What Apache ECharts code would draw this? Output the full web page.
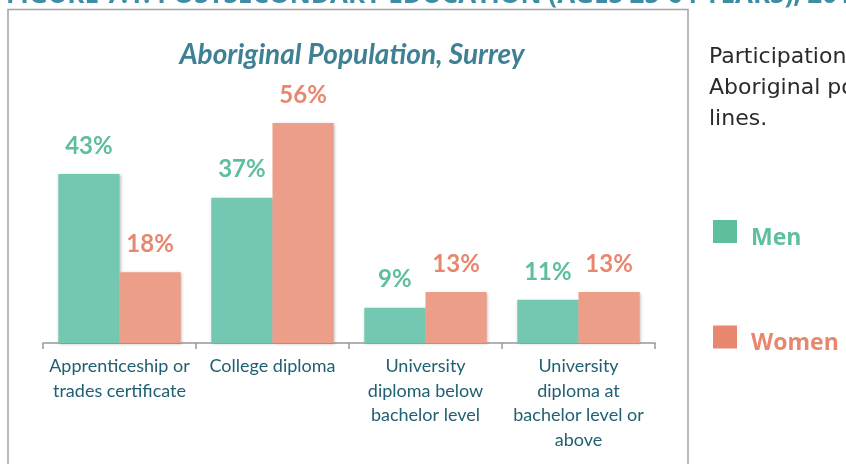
<!DOCTYPE html>
<html>
<head>
<meta charset="utf-8">
<script src="https://cdn.jsdelivr.net/npm/echarts@6/dist/echarts.min.js"></script>
<style>
html,body{margin:0;padding:0;background:#fff;}
#chart{width:846px;height:464px;}
</style>
</head>
<body>
<div id="chart"></div>
<script>
const categories = [
  "Apprenticeship or\ntrades certificate",
  "College diploma",
  "University\ndiploma below\nbachelor level",
  "University\ndiploma at\nbachelor level or\nabove"
];
const menValues = [43, 37, 9, 11];
const womenValues = [18, 56, 13, 13];
const chartTitle = "Aboriginal Population, Surrey";
const figureTitle = "FIGURE 7.1: POSTSECONDARY EDUCATION (AGES 25-64 YEARS), 2016";
const sideText = ["Participation of the", "Aboriginal population in", "lines."];

const menBar = "#74c8b1", womenBar = "#ed9e88";
const menText = "#5ebf9d", womenText = "#e8876f";

const chart = echarts.init(document.getElementById('chart'));
chart.setOption({
  animation: false,
  title: {
    text: chartTitle,
    left: 347, top: 36, textAlign: 'center',
    textStyle: {fontFamily: 'Lato', fontStyle: 'italic', fontWeight: 'bold', fontSize: 28, color: '#3f8194'}
  },
  grid: {left: 43, right: 191, top: 68, bottom: 121},
  legend: {
    orient: 'vertical', left: 713, top: 220, padding: 0,
    itemWidth: 24, itemHeight: 23, itemGap: 76,
    icon: 'rect',
    formatter: '{t|{name}}',
    textStyle: {
      fontFamily: 'Open Sans', fontWeight: 'bold', fontSize: 23,
      rich: {t: {fontFamily: 'Open Sans', fontWeight: 'bold', fontSize: 23, padding: [13, 0, 0, 9]}}
    },
    data: [
      {name: 'Men', itemStyle: {color: menText}, textStyle: {color: menText}},
      {name: 'Women', itemStyle: {color: womenText}, textStyle: {color: womenText}}
    ]
  },
  xAxis: {
    type: 'category', data: categories,
    axisLine: {lineStyle: {color: '#999', width: 1.5}},
    axisTick: {show: true, length: 6, lineStyle: {color: '#999', width: 1.5}},
    axisLabel: {fontFamily: 'Lato', fontSize: 18, lineHeight: 24.5, color: '#1f6072', margin: 11, interval: 0}
  },
  yAxis: {type: 'value', min: 0, max: 70, show: false, splitLine: {show: false}},
  series: [
    {
      name: 'Men', type: 'bar', data: menValues, barGap: '0%', barCategoryGap: '20%',
      itemStyle: {color: menBar, shadowBlur: 3, shadowColor: 'rgba(0,0,0,0.25)', shadowOffsetX: 1, shadowOffsetY: 1},
      label: {show: true, position: 'top', distance: 16, formatter: '{c}%', fontFamily: 'Lato', fontWeight: 'bold', fontSize: 24, color: menText}
    },
    {
      name: 'Women', type: 'bar', data: womenValues,
      itemStyle: {color: womenBar, shadowBlur: 3, shadowColor: 'rgba(0,0,0,0.25)', shadowOffsetX: 1, shadowOffsetY: 1},
      label: {show: true, position: 'top', distance: 16, formatter: '{c}%', fontFamily: 'Lato', fontWeight: 'bold', fontSize: 24, color: womenText}
    }
  ],
  graphic: [
    {type: 'rect', shape: {x: 8, y: 9.5, width: 680, height: 470}, style: {fill: 'none', stroke: '#a3a3a3', lineWidth: 1.5}, silent: true},
    {type: 'text', x: 6, y: 9, style: {text: figureTitle, fontFamily: 'Open Sans', fontWeight: 'bold', fontSize: 26, fill: '#3d8ea5', textVerticalAlign: 'bottom'}},
    {type: 'text', x: 709, y: 42, style: {text: sideText.join('\n'), fontFamily: 'DejaVu Sans', fontSize: 22, lineHeight: 31, fill: '#2a2a2a'}}
  ]
});
</script>
</body>
</html>
